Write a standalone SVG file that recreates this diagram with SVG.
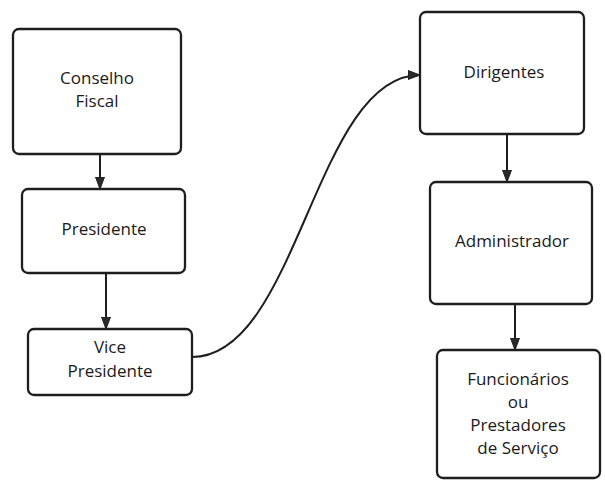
<svg xmlns="http://www.w3.org/2000/svg" width="605" height="483" viewBox="0 0 605 483">
<style>
.box{fill:#fff;stroke:#1e1e1e;stroke-width:2.3}
.lbl{font-family:"Open Sans","Noto Sans","Liberation Sans",sans-serif;font-size:17px;fill:#1a1a1a;text-anchor:middle}
.edge{fill:none;stroke:#1e1e1e;stroke-width:2}
</style>
<defs>
<marker id="arr" viewBox="0 0 12 10" refX="12" refY="5" markerWidth="12" markerHeight="10" markerUnits="userSpaceOnUse" orient="auto">
<path d="M0,0.5 L12,5 L0,9.5 Z" fill="#2a2a2a" stroke="#1e1e1e" stroke-width="1"/>
</marker>
</defs>
<rect width="605" height="483" fill="#fff"/>
<g id="connectors">
<line class="edge" x1="100" y1="154" x2="100" y2="189" marker-end="url(#arr)"/>
<line class="edge" x1="106" y1="273" x2="106" y2="329" marker-end="url(#arr)"/>
<path class="edge" d="M192,357 C298,357 315,75 420,75" marker-end="url(#arr)"/>
<line class="edge" x1="507" y1="134" x2="507" y2="182" marker-end="url(#arr)"/>
<line class="edge" x1="515" y1="304" x2="515" y2="350" marker-end="url(#arr)"/>
</g>
<g id="conselho-fiscal">
<rect class="box" x="13" y="29" width="168" height="125" rx="6"/>
<text class="lbl" x="97" y="84">Conselho</text>
<text class="lbl" x="97" y="107">Fiscal</text>
</g>
<g id="presidente">
<rect class="box" x="22" y="189" width="163" height="84" rx="6"/>
<text class="lbl" x="104" y="235">Presidente</text>
</g>
<g id="vice-presidente">
<rect class="box" x="28" y="329" width="164" height="66" rx="6"/>
<text class="lbl" x="110" y="353">Vice</text>
<text class="lbl" x="110" y="377">Presidente</text>
</g>
<g id="dirigentes">
<rect class="box" x="420" y="12" width="164" height="122" rx="6"/>
<text class="lbl" x="504" y="78">Dirigentes</text>
</g>
<g id="administrador">
<rect class="box" x="430" y="182" width="162" height="122" rx="6"/>
<text class="lbl" x="512" y="247">Administrador</text>
</g>
<g id="funcionarios">
<rect class="box" x="437" y="350" width="163" height="128" rx="6"/>
<text class="lbl" x="518" y="385">Funcionários</text>
<text class="lbl" x="518" y="408">ou</text>
<text class="lbl" x="518" y="431">Prestadores</text>
<text class="lbl" x="518" y="454">de Serviço</text>
</g>
</svg>
